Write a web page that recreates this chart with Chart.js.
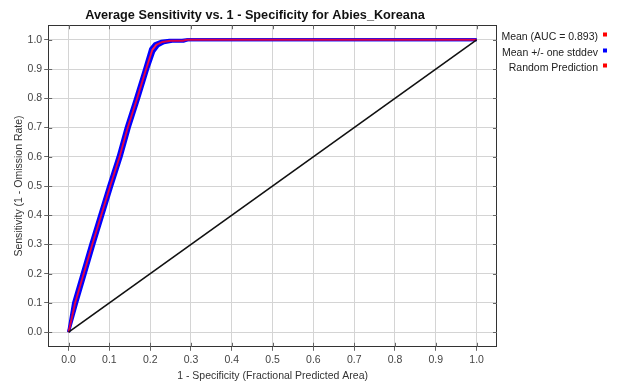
<!DOCTYPE html>
<html>
<head>
<meta charset="utf-8">
<script src="https://cdn.jsdelivr.net/npm/chart.js@4"></script>
<style>
html,body{margin:0;padding:0;background:#fff;}
#wrap{position:relative;width:620px;height:382px;}
</style>
</head>
<body>
<div id="wrap"><canvas id="c" width="620" height="382"></canvas></div>
<script>
// Data
const meanX = [0, 0.016, 0.037, 0.058, 0.080, 0.102, 0.125, 0.145, 0.168, 0.190, 0.205, 0.215, 0.230, 0.250, 0.280, 0.290, 0.300, 1.0];
const meanY = [0, 0.10, 0.20, 0.30, 0.40, 0.50, 0.60, 0.70, 0.80, 0.90, 0.965, 0.983, 0.993, 0.997, 0.997, 1.0, 1.0, 1.0];
const upperX = [0, 0.012, 0.033, 0.054, 0.076, 0.098, 0.121, 0.141, 0.164, 0.186, 0.201, 0.211, 0.227, 0.247, 0.278, 0.288, 0.300, 1.0];
const upperY = [0, 0.10, 0.20, 0.30, 0.40, 0.50, 0.60, 0.70, 0.80, 0.90, 0.970, 0.987, 0.995, 0.999, 0.999, 1.0, 1.0, 1.0];
const lowerX = [0, 0.020, 0.041, 0.062, 0.084, 0.106, 0.129, 0.149, 0.172, 0.194, 0.209, 0.219, 0.234, 0.254, 0.282, 0.292, 0.300, 1.0];
const lowerY = [0, 0.10, 0.20, 0.30, 0.40, 0.50, 0.60, 0.70, 0.80, 0.90, 0.960, 0.979, 0.990, 0.995, 0.995, 1.0, 1.0, 1.0];
const randomX = [0, 1];
const randomY = [0, 1];
const tickValues = [0, 0.1, 0.2, 0.3, 0.4, 0.5, 0.6, 0.7, 0.8, 0.9, 1.0];
const legendLabels = ["Mean (AUC = 0.893)", "Mean +/- one stddev", "Random Prediction"];
const legendColors = ["#ff0000", "#0000ff", "#ff0000"];

const pts = (xs, ys) => xs.map((x, i) => ({x: x, y: ys[i]}));
const FONT = "'Liberation Sans', Arial, sans-serif";
const SMALL = 10.5;

const legendPlugin = {
  id: 'rightLegend',
  afterDraw(chart) {
    const ctx = chart.ctx;
    ctx.save();
    ctx.font = SMALL + "px " + FONT;
    ctx.textAlign = "right";
    ctx.textBaseline = "middle";
    const ys = [37, 53, 68];
    legendLabels.forEach((t, i) => {
      ctx.fillStyle = "#222";
      ctx.fillText(t, 598, ys[i]);
      ctx.fillStyle = legendColors[i];
      ctx.fillRect(603, ys[i] - 4.5, 4, 4);
    });
    ctx.restore();
  }
};

const borderPlugin = {
  id: 'plotBorder',
  afterDatasetsDraw(chart) {
    const a = chart.chartArea, ctx = chart.ctx;
    ctx.save();
    ctx.strokeStyle = "#333";
    ctx.lineWidth = 1;
    ctx.strokeRect(Math.round(a.left) + 0.5, Math.round(a.top) + 0.5, Math.round(a.right - a.left) - 1, Math.round(a.bottom - a.top) - 1);
    const xs = chart.scales.x, ysc = chart.scales.y;
    ctx.strokeStyle = "#666";
    tickValues.forEach(v => {
      const px = Math.round(xs.getPixelForValue(v)) + 0.5;
      ctx.beginPath(); ctx.moveTo(px, a.bottom); ctx.lineTo(px, a.bottom - 4); ctx.stroke();
      ctx.beginPath(); ctx.moveTo(px, a.top); ctx.lineTo(px, a.top + 4); ctx.stroke();
      const py = Math.round(ysc.getPixelForValue(v)) + 0.5;
      ctx.beginPath(); ctx.moveTo(a.left, py); ctx.lineTo(a.left + 4, py); ctx.stroke();
      ctx.beginPath(); ctx.moveTo(a.right, py); ctx.lineTo(a.right - 4, py); ctx.stroke();
    });
    ctx.restore();
  }
};

new Chart(document.getElementById('c'), {
  type: 'scatter',
  data: {
    datasets: [
      {label: 'upper', data: pts(upperX, upperY), showLine: true, borderColor: '#0000ff', borderWidth: 3, pointRadius: 0, order: 3},
      {label: 'lower', data: pts(lowerX, lowerY), showLine: true, borderColor: '#0000ff', borderWidth: 3, pointRadius: 0, order: 2},
      {label: 'mean', data: pts(meanX, meanY), showLine: true, borderColor: 'rgba(255,0,40,0.85)', borderWidth: 2, pointRadius: 0, order: 1},
      {label: 'random', data: pts(randomX, randomY), showLine: true, borderColor: '#111', borderWidth: 1.6, pointRadius: 0, order: 0}
    ]
  },
  options: {
    responsive: false,
    animation: false,
    layout: {padding: {left: 13, right: 123, top: 0, bottom: 0}},
    plugins: {
      legend: {display: false},
      tooltip: {enabled: false},
      title: {
        display: true,
        text: 'Average Sensitivity vs. 1 - Specificity for Abies_Koreana',
        font: {family: FONT, size: 12.7, weight: 'bold'},
        color: '#111',
        padding: {top: 8, bottom: 2}
      }
    },
    scales: {
      x: {
        type: 'linear', min: -0.05, max: 1.05,
        afterBuildTicks: s => { s.ticks = tickValues.map(v => ({value: v})); },
        ticks: {callback: v => v.toFixed(1), font: {family: FONT, size: SMALL}, color: '#444', padding: 3, maxRotation: 0},
        grid: {color: '#d4d4d4', lineWidth: 1, tickLength: 4, tickColor: '#666'},
        border: {display: false},
        title: {display: true, text: '1 - Specificity (Fractional Predicted Area)', font: {family: FONT, size: SMALL}, color: '#333', padding: {top: 0, bottom: 0}}
      },
      y: {
        type: 'linear', min: -0.05, max: 1.05,
        afterBuildTicks: s => { s.ticks = tickValues.map(v => ({value: v})); },
        afterFit: s => { s.paddingTop = 0; s.paddingBottom = 0; },
        ticks: {callback: v => v.toFixed(1), font: {family: FONT, size: SMALL}, color: '#444', padding: 2},
        grid: {color: '#d4d4d4', lineWidth: 1, tickLength: 4, tickColor: '#666'},
        border: {display: false},
        title: {display: true, text: 'Sensitivity (1 - Omission Rate)', font: {family: FONT, size: SMALL}, color: '#333', padding: {top: 0, bottom: 0}}
      }
    }
  },
  plugins: [legendPlugin, borderPlugin]
});
</script>
</body>
</html>
